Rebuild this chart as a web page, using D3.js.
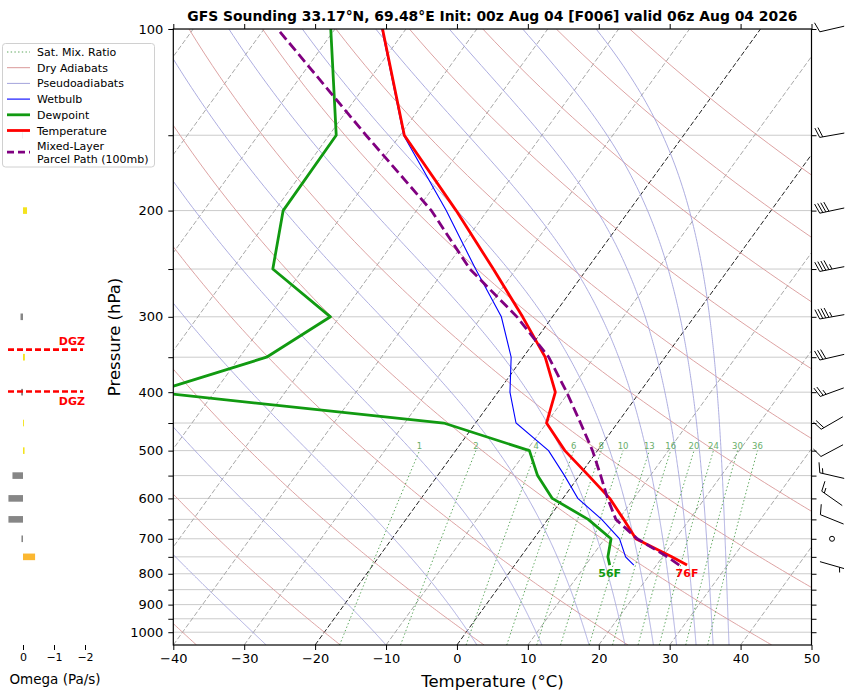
<!DOCTYPE html>
<html>
<head>
<meta charset="utf-8">
<script src="https://cdn.jsdelivr.net/npm/d3@7"></script>
<style>
  body { margin: 0; background: #fff; }
  text { font-family: "DejaVu Sans", sans-serif; }
</style>
</head>
<body>
<div id="chart"></div>
<script>

// ---- sounding data ----
var levels      = [774, 750, 700, 650, 600, 550, 500, 450, 400, 350, 300, 250, 200, 150, 100];
var temperature = [24.3, 21.3, 14.4, 10.7, 6.6, 1.3, -4.6, -10.0, -11.9, -16.9, -24.2, -33.2, -44.4, -59.4, -73.3];
var dewpoint    = [13.4, 12.3, 10.9, 5.7, -1.5, -5.9, -9.6, -24.5, -68.5, -56.2, -51.3, -64.3, -68.8, -69.0, -80.6];
var wetbulb     = [16.8, 14.8, 12.1, 7.6, 2.1, -2.1, -6.9, -14.3, -18.3, -21.7, -27.2, -35.7, -45.8, -59.5, -73.4];
var parcel      = [23.2, 20.7, 14.6, 9.6, 6.3, 3.0, -0.7, -5.2, -10.3, -16.4, -25.0, -36.5, -47.9, -64.8, -88.1];

// wind barbs (direction wind comes from, knots)
var windLevels = [774, 700, 650, 600, 550, 500, 450, 400, 350, 300, 250, 200, 150, 100];
var windDir    = [106, 0, 292, 305, 283, 242, 240, 250, 257, 260, 259, 258, 260, 257];
var windSpeed  = [5, 0, 10, 15, 15, 10, 20, 25, 30, 45, 45, 40, 20, 10];

// omega (Pa/s)
var omegaLevels = [750, 700, 650, 600, 550, 500, 450, 400, 350, 300, 250, 200, 150, 100];
var omega       = [-0.39, 0.05, 0.47, 0.47, 0.34, -0.05, -0.03, 0.06, -0.06, 0.08, 0, -0.13, 0.02, 0];

// dendritic growth zone bounds (hPa)
var dgzLevels = [340, 399];

// reference lines
var isotherms      = [-120, -110, -100, -90, -80, -70, -60, -50, -40, -30, -20, -10, 0, 10, 20, 30, 40, 50];
var boldIsotherms  = [-20, 0];
var dryAdiabats    = [-40, -20, 0, 20, 40, 60, 80, 100, 120, 140, 160, 180];      // theta, degC at 1000 hPa
var pseudoThetaTop = [204, 224, 244, 264, 284, 304, 324, 344, 364, 384, 404, 424, 444]; // theta (K) at 100 hPa
var mixingRatios   = [1, 2, 4, 6, 8, 10, 13, 16, 20, 24, 30, 36];               // g/kg

var tempTicks     = [-40, -30, -20, -10, 0, 10, 20, 30, 40, 50];
var pressureTicks = [100, 150, 200, 250, 300, 350, 400, 450, 500, 550, 600, 650, 700, 750, 800, 850, 900, 950, 1000];
var omegaTicks    = [0, -1, -2];

var title = "GFS Sounding 33.17°N, 69.48°E Init: 00z Aug 04 [F006] valid 06z Aug 04 2026";

// ---- layout ----
var W = 853, H = 695;
var plot = {left: 173.3, right: 811.5, top: 29, bottom: 645};
var skew = 0.723;

var xscale = d3.scaleLinear().domain([-40, 50]).range([plot.left, plot.right]);
var yscale = d3.scaleLog().domain([1050, 100]).range([plot.bottom, plot.top]);
var oscale = d3.scaleLinear().domain([0, -2]).range([23, 85]);

// skewed x position of temperature t at pressure p
function sx(t, p) { return xscale(t) + skew * (plot.bottom - yscale(p)); }

var line = d3.line().x(d => sx(d[0], d[1])).y(d => yscale(d[1]));
var minus = d => (d < 0 ? "\u2212" + (-d) : "" + d);

var svg = d3.select("#chart").append("svg")
    .attr("width", W).attr("height", H);

svg.append("defs").append("clipPath").attr("id", "plotclip")
  .append("rect")
    .attr("x", plot.left).attr("y", plot.top)
    .attr("width", plot.right - plot.left).attr("height", plot.bottom - plot.top);

var chart = svg.append("g").attr("clip-path", "url(#plotclip)");

// horizontal grid lines
chart.selectAll("line.grid")
    .data(pressureTicks)
    .enter().append("line")
    .attr("x1", plot.left).attr("x2", plot.right)
    .attr("y1", d => yscale(d)).attr("y2", d => yscale(d))
    .attr("stroke", "#cbcbcb").attr("stroke-width", 1);

// isotherms
chart.selectAll("line.iso")
    .data(isotherms)
    .enter().append("line")
    .attr("x1", d => sx(d, 1050)).attr("y1", yscale(1050))
    .attr("x2", d => sx(d, 100)).attr("y2", yscale(100))
    .attr("stroke", d => boldIsotherms.indexOf(d) >= 0 ? "#222" : "#a8a8a8")
    .attr("stroke-width", 1)
    .attr("stroke-dasharray", "5,2.2");

// pressure grid used to draw the curved reference lines
var pgrid = d3.range(1050, 99, -5);

// dry adiabats
chart.selectAll("path.dry")
    .data(dryAdiabats)
    .enter().append("path")
    .attr("d", th => line(pgrid.map(p => [(th + 273.15) * Math.pow(p / 1000, 0.2857) - 273.15, p])))
    .attr("fill", "none").attr("stroke", "#d99898").attr("stroke-width", 0.9);

// pseudoadiabats, integrated down from 100 hPa
function moistRate(T, p) {
    var tc = T - 273.15;
    var es = 6.112 * Math.exp(17.67 * tc / (tc + 243.5));
    var rs = 0.622 * es / (p - es);
    var num = 287.04 * T + 2.501e6 * rs;
    var den = 1005.7 + 2.501e6 * 2.501e6 * rs * 0.622 / (287.04 * T * T);
    return num / den / p;
}
function pseudoadiabat(thTop) {
    var T = thTop * Math.pow(0.1, 0.2857), p = 100, h = 2.5;
    var pts = [[T - 273.15, p]];
    while (p < 1050) {
        var k1 = moistRate(T, p);
        var k2 = moistRate(T + h * k1 / 2, p + h / 2);
        var k3 = moistRate(T + h * k2 / 2, p + h / 2);
        var k4 = moistRate(T + h * k3, p + h);
        T += h * (k1 + 2 * k2 + 2 * k3 + k4) / 6;
        p += h;
        pts.push([T - 273.15, p]);
    }
    return pts;
}
chart.selectAll("path.moist")
    .data(pseudoThetaTop)
    .enter().append("path")
    .attr("d", th => line(pseudoadiabat(th)))
    .attr("fill", "none").attr("stroke", "#a4a4dc").attr("stroke-width", 0.9);

// saturation mixing ratio lines
function dewFromMix(w, p) {
    var r = w / 1000;
    var e = r * p / (0.622 + r);
    var l = Math.log(e / 6.112);
    return 243.5 * l / (17.67 - l);
}
var mgrid = d3.range(1050, 499, -10);
chart.selectAll("path.mix")
    .data(mixingRatios)
    .enter().append("path")
    .attr("d", w => line(mgrid.map(p => [dewFromMix(w, p), p])))
    .attr("fill", "none").attr("stroke", "#5aa55a").attr("stroke-width", 1)
    .attr("stroke-dasharray", "1.4,2.3");

chart.selectAll("text.mix")
    .data(mixingRatios)
    .enter().append("text")
    .attr("x", w => sx(dewFromMix(w, 500), 500))
    .attr("y", yscale(500) - 2)
    .attr("text-anchor", "middle")
    .style("font-size", "8.5px")
    .attr("fill", "#6aae6a")
    .text(w => w);

// profiles
function profile(vals) { return vals.map((t, i) => [t, levels[i]]); }

chart.append("path").attr("d", line(profile(wetbulb)))
    .attr("fill", "none").attr("stroke", "#0000ff").attr("stroke-width", 1.1);
chart.append("path").attr("d", line(profile(dewpoint)))
    .attr("fill", "none").attr("stroke", "#119a11").attr("stroke-width", 2.8)
    .attr("stroke-linejoin", "round");
chart.append("path").attr("d", line(profile(temperature)))
    .attr("fill", "none").attr("stroke", "#ff0000").attr("stroke-width", 2.8)
    .attr("stroke-linejoin", "round");
chart.append("path").attr("d", line(profile(parcel)))
    .attr("fill", "none").attr("stroke", "#800080").attr("stroke-width", 2.8)
    .attr("stroke-dasharray", "10,4.5");

// surface labels in F
var sfcT = temperature[0], sfcTd = dewpoint[0];
[[sfcTd, "#119a11"], [sfcT, "#ff0000"]].forEach(function(d) {
    svg.append("text")
        .attr("x", sx(d[0], levels[0]))
        .attr("y", yscale(levels[0]) + 12)
        .attr("text-anchor", "middle")
        .style("font-size", "11px").style("font-weight", "bold")
        .attr("fill", d[1])
        .text(Math.round(d[0] * 9 / 5 + 32) + "F");
});

// frame
svg.append("rect")
    .attr("x", plot.left).attr("y", plot.top)
    .attr("width", plot.right - plot.left).attr("height", plot.bottom - plot.top)
    .attr("fill", "none").attr("stroke", "#000").attr("stroke-width", 1.2);

// axes
svg.append("g")
    .attr("transform", "translate(0," + plot.bottom + ")")
    .call(d3.axisBottom(xscale).tickValues(tempTicks).tickSize(5).tickPadding(4).tickFormat(minus));
svg.append("g")
    .attr("transform", "translate(0," + plot.top + ")")
    .call(d3.axisTop(xscale).tickValues(tempTicks).tickSize(5).tickFormat(""));
svg.append("g")
    .attr("transform", "translate(" + plot.left + ",0)")
    .call(d3.axisLeft(yscale).tickValues(pressureTicks).tickSize(5).tickPadding(5)
        .tickFormat(d => (d % 100 === 0 ? d : "")));
svg.append("g")
    .attr("transform", "translate(" + plot.right + ",0)")
    .call(d3.axisRight(yscale).tickValues(pressureTicks).tickSize(5).tickFormat(""));
svg.selectAll(".domain").remove();
svg.selectAll(".tick line").attr("stroke", "#000");
svg.selectAll(".tick text").style("font-size", "13px").style("font-family", "DejaVu Sans").attr("fill", "#000");

svg.append("text")
    .attr("x", (plot.left + plot.right) / 2).attr("y", 21)
    .attr("text-anchor", "middle")
    .style("font-size", "13.9px").style("font-weight", "bold")
    .text(title);

svg.append("text")
    .attr("x", (plot.left + plot.right) / 2).attr("y", 687)
    .attr("text-anchor", "middle")
    .style("font-size", "16.5px")
    .text("Temperature (\u00b0C)");

svg.append("text")
    .attr("transform", "translate(120," + (plot.top + plot.bottom) / 2 + ") rotate(-90)")
    .attr("text-anchor", "middle")
    .style("font-size", "16.5px")
    .text("Pressure (hPa)");

// ---- wind barbs ----
function barb(g, cx, cy, dir, spd, L) {
    if (spd < 2.5) {
        g.append("circle").attr("cx", cx).attr("cy", cy).attr("r", 2.5)
            .attr("fill", "none").attr("stroke", "#000").attr("stroke-width", 1);
        return;
    }
    var rad = dir * Math.PI / 180;
    var ux = Math.sin(rad), uy = -Math.cos(rad);   // upwind, screen coords
    var px = -uy, py = ux;                          // feather side
    var tail = [cx + ux * L / 2, cy + uy * L / 2];
    var tip = [cx - ux * L / 2, cy - uy * L / 2];
    var h = 0.4 * L, w = 0.25 * L, sp = 0.125 * L;
    var s = Math.round(spd / 5) * 5;
    var nflag = Math.floor(s / 50); s -= nflag * 50;
    var nfull = Math.floor(s / 10); s -= nfull * 10;
    var half = s >= 5;
    var path = "M" + tip + "L" + tail;
    var off = 0;
    function at(o) { return [tail[0] - ux * o, tail[1] - uy * o]; }
    for (var i = 0; i < nflag; i++) {
        var a = at(off), c = at(off + w);
        var b = [a[0] + px * h - ux * w / 2, a[1] + py * h - uy * w / 2];
        g.append("path").attr("d", "M" + a + "L" + b + "L" + c + "Z").attr("fill", "#000");
        off += w + sp;
    }
    for (var j = 0; j < nfull; j++) {
        var a1 = at(off);
        path += "M" + a1 + "L" + [a1[0] + px * h + ux * w / 2, a1[1] + py * h + uy * w / 2];
        off += sp;
    }
    if (half) {
        if (off === 0) off = 1.5 * sp;
        var a2 = at(off);
        path += "M" + a2 + "L" + [a2[0] + px * h / 2 + ux * w / 4, a2[1] + py * h / 2 + uy * w / 4];
    }
    g.append("path").attr("d", path).attr("fill", "none")
        .attr("stroke", "#000").attr("stroke-width", 1);
}
var barbs = svg.append("g");
windLevels.forEach(function(p, i) {
    barb(barbs, 832, yscale(p), windDir[i], windSpeed[i], 25);
});

// ---- omega panel ----
var opanel = svg.append("g");
opanel.selectAll("rect")
    .data(omega)
    .enter().append("rect")
    .attr("x", d => Math.min(oscale(0), oscale(d)))
    .attr("width", d => Math.abs(oscale(d) - oscale(0)))
    .attr("y", (d, i) => yscale(omegaLevels[i]) - 3.3)
    .attr("height", 6.6)
    .attr("fill", d => (d > 0 ? "#868686" : (d < -0.3 ? "#fbb731" : "#f4e31e")));

opanel.selectAll("line.dgz")
    .data(dgzLevels)
    .enter().append("line")
    .attr("x1", 8).attr("x2", 83)
    .attr("y1", d => yscale(d)).attr("y2", d => yscale(d))
    .attr("stroke", "#ff0000").attr("stroke-width", 2.6)
    .attr("stroke-dasharray", "6,3");
opanel.selectAll("text.dgz")
    .data(dgzLevels)
    .enter().append("text")
    .attr("x", 85)
    .attr("y", (d, i) => yscale(d) + (i === 0 ? -5 : 13))
    .attr("text-anchor", "end")
    .style("font-size", "11px").style("font-weight", "bold")
    .attr("fill", "#ff0000")
    .text("DGZ");

var oaxis = opanel.append("g")
    .attr("transform", "translate(0," + plot.bottom + ")")
    .call(d3.axisBottom(oscale).tickValues(omegaTicks).tickSize(5).tickPadding(3).tickFormat(minus));
oaxis.select(".domain").remove();
oaxis.selectAll(".tick text").style("font-size", "11px");

opanel.append("text")
    .attr("x", 55).attr("y", 684)
    .attr("text-anchor", "middle")
    .style("font-size", "13.5px")
    .text("Omega (Pa/s)");

// ---- legend ----
var legendItems = [
    {label: ["Sat. Mix. Ratio"], color: "#5aa55a", width: 1, dash: "1.4,2.3"},
    {label: ["Dry Adiabats"], color: "#d99898", width: 1, dash: null},
    {label: ["Pseudoadiabats"], color: "#a4a4dc", width: 1, dash: null},
    {label: ["Wetbulb"], color: "#0000ff", width: 1.1, dash: null},
    {label: ["Dewpoint"], color: "#119a11", width: 2.8, dash: null},
    {label: ["Temperature"], color: "#ff0000", width: 2.8, dash: null},
    {label: ["Mixed-Layer", "Parcel Path (100mb)"], color: "#800080", width: 2.8, dash: "7,4"}
];
var legend = svg.append("g");
legend.append("rect")
    .attr("x", 2.5).attr("y", 43.5).attr("width", 152).attr("height", 123.5)
    .attr("rx", 3)
    .attr("fill", "#fff").attr("fill-opacity", 0.8)
    .attr("stroke", "#d0d0d0");
var ly = 52;
legendItems.forEach(function(d) {
    var cy = d.label.length > 1 ? ly + 6 : ly;
    legend.append("line")
        .attr("x1", 7).attr("x2", 30).attr("y1", cy).attr("y2", cy)
        .attr("stroke", d.color).attr("stroke-width", d.width)
        .attr("stroke-dasharray", d.dash);
    d.label.forEach(function(t, k) {
        legend.append("text")
            .attr("x", 37).attr("y", ly + 4 + k * 12.5)
            .style("font-size", "11px")
            .text(t);
    });
    ly += 15.7;
});

</script>
</body>
</html>
